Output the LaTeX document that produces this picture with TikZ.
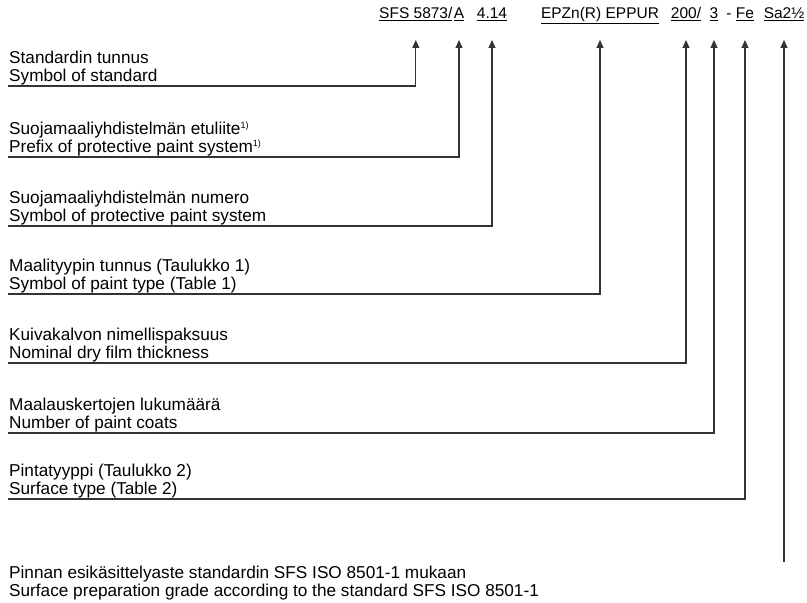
\documentclass[tikz,border=0pt]{standalone}
\usepackage{fontspec}
\setmainfont{Liberation Sans}
\usepackage{tikz}
\usetikzlibrary{arrows.meta}

\newcommand{\fnmark}{{\fontsize{9bp}{9bp}\selectfont\raisebox{6bp}{1)}}}

\tikzset{
    desc/.style={anchor=south west, align=left, inner xsep=1bp, inner ysep=0pt, text depth=4bp},
    code/.style={anchor=base, inner sep=0pt, font=\fontsize{15.5bp}{18bp}\selectfont},
    conn/.style={line width=1.1bp, draw=black!80, -{Triangle[width=7bp,length=8bp]}}
}

\begin{document}
\begin{tikzpicture}[x=1bp, y=-1bp, font=\fontsize{17.2bp}{18bp}\selectfont]
    \useasboundingbox (0,0) rectangle (807,603);

    % The designation
    \node[code] (c-pre)   at (459,19) {\underline{A}};
    \node[code, anchor=base east] (c-std) at ([xshift=-1bp]c-pre.base west) {\underline{SFS 5873/}};
    \node[code] (c-num)   at (492,19) {\underline{4.14}};
    \node[code] (c-paint) at (600,19) {\underline{EPZn(R) EPPUR}};
    \node[code] (c-dft)   at (686,19) {\underline{200/}};
    \node[code] (c-coat)  at (714,19) {\underline{3}};
    \node[code] (c-dash)  at (729,19) {-};
    \node[code] (c-surf)  at (745,19) {\underline{Fe}};
    \node[code] (c-grade) at (784,19) {\underline{Sa2½}};
    \coordinate (tip) at (0,40);

    % Explanations
    \node[desc] (d-std)   at (8,86)  {Standardin tunnus\\Symbol of standard};
    \node[desc] (d-pre)   at (8,157) {Suojamaaliyhdistelmän etuliite\fnmark\\Prefix of protective paint system\fnmark};
    \node[desc] (d-num)   at (8,226) {Suojamaaliyhdistelmän numero\\Symbol of protective paint system};
    \node[desc] (d-paint) at (8,294) {Maalityypin tunnus (Taulukko 1)\\Symbol of paint type (Table 1)};
    \node[desc] (d-dft)   at (8,363) {Kuivakalvon nimellispaksuus\\Nominal dry film thickness};
    \node[desc] (d-coat)  at (8,433) {Maalauskertojen lukumäärä\\Number of paint coats};
    \node[desc] (d-surf)  at (8,499) {Pintatyyppi (Taulukko 2)\\Surface type (Table 2)};
    \node[desc] (d-grade) at (8,601) {Pinnan esikäsittelyaste standardin SFS ISO 8501-1 mukaan\\Surface preparation grade according to the standard SFS ISO 8501-1};

    % Leaders
    \draw[conn] (d-std.south west)   -| (c-std |- tip);
    \draw[conn] (d-pre.south west)   -| (c-pre |- tip);
    \draw[conn] (d-num.south west)   -| (c-num |- tip);
    \draw[conn] (d-paint.south west) -| (c-paint |- tip);
    \draw[conn] (d-dft.south west)   -| (c-dft |- tip);
    \draw[conn] (d-coat.south west)  -| (c-coat |- tip);
    \draw[conn] (d-surf.south west)  -| (c-surf |- tip);
    \coordinate (grade-foot) at (c-grade |- 0,562);
    \draw[conn] (grade-foot) -- (c-grade |- tip);
\end{tikzpicture}
\end{document}
